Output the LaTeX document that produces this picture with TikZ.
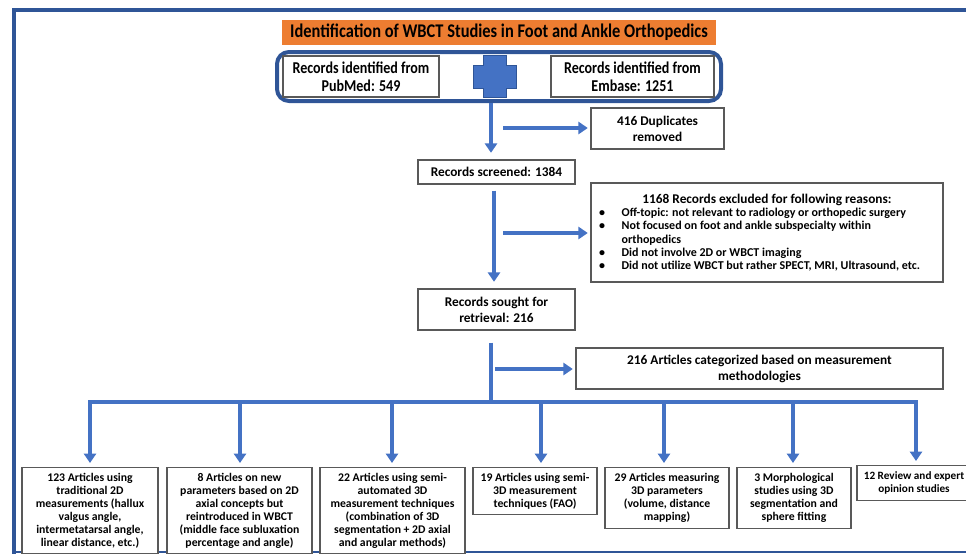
\documentclass[tikz,border=0pt]{standalone}
\usepackage{fontspec}
\setmainfont{Carlito}
\newfontfamily\narrowfont[FakeStretch=0.85]{Carlito}
\usetikzlibrary{arrows.meta}
\definecolor{frameblue}{HTML}{2F5597}
\definecolor{flowblue}{HTML}{4472C4}
\definecolor{headorange}{HTML}{ED7D31}
\definecolor{boxline}{HTML}{595959}
\tikzset{
  box/.style={draw=boxline,line width=0.8pt,fill=white,align=center,inner sep=1pt,
    font=\bfseries\fontsize{10}{12}\selectfont},
  sourcebox/.style={box,font=\narrowfont\bfseries\fontsize{12.4}{13.5}\selectfont,
    minimum height=30.75pt},
  leafbox/.style={box,anchor=north,font=\bfseries\fontsize{8.8}{9.75}\selectfont},
  flow/.style={draw=flowblue,line width=2.4pt,-{Triangle[width=9pt,length=7pt]}},
  bus/.style={draw=flowblue,line width=2.4pt},
}
\newcommand{\exitem}[1]{\par\hangindent=20pt\hangafter=1\noindent
  \makebox[20pt][l]{\hspace{3pt}\textbullet}#1}
\begin{document}
\begin{tikzpicture}[x=0.75pt,y=-0.75pt]
\useasboundingbox (0,0) rectangle (966,554);
% frame
\draw[frameblue,line width=3pt] (966,10) -- (14,10) -- (14,554);
\draw[frameblue,line width=1.5pt] (14,552) -- (966,552);

\node[fill=headorange,minimum width=325.5pt,minimum height=18.75pt,inner sep=0pt,
  font=\narrowfont\bfseries\fontsize{14.5}{16}\selectfont] (title) at (499,32.5)
  {Identification of WBCT Studies in Foot and Ankle Orthopedics};
\node[draw=frameblue,line width=3pt,rounded corners=9pt,minimum width=333pt,
  minimum height=36.75pt] (source) at (499,76.5) {};
\node[sourcebox,minimum width=117pt] (pubmed) at (361,76.5) {Records identified from\\PubMed: 549};
\node[sourcebox,minimum width=122.25pt] (embase) at (632.5,76.5) {Records identified from\\Embase: 1251};
% plus sign
\filldraw[fill=flowblue,draw=frameblue,line width=0.6pt] (483,55) -- (506,55) -- (506,65)
  -- (516,65) -- (516,88) -- (506,88) -- (506,97) -- (483,97) -- (483,88) -- (473,88)
  -- (473,65) -- (483,65) -- cycle;

\node[box,minimum width=99.75pt,minimum height=30.75pt] (dup) at (657.5,128.5) {416 Duplicates\\removed};
\node[box,minimum width=117.75pt,minimum height=18pt] (screened) at (496.5,172) {Records screened: 1384};
\node[box,minimum width=264pt,minimum height=74.25pt] (excl) at (767,232.5) {\parbox{258pt}{%
  \centering 1168 Records excluded for following reasons:\par
  \raggedright\fontsize{9}{10}\selectfont
  \exitem{Off-topic: not relevant to radiology or orthopedic surgery}
  \exitem{Not focused on foot and ankle subspecialty within\newline orthopedics}
  \exitem{Did not involve 2D or WBCT imaging}
  \exitem{Did not utilize WBCT but rather SPECT, MRI, Ultrasound, etc.}\par}};
\node[box,minimum width=117.75pt,minimum height=30.75pt] (sought) at (496.5,309.5) {Records sought for\\retrieval: 216};
\node[box,minimum width=275.25pt,minimum height=30.75pt] (cat) at (759.5,368.5) {216 Articles categorized based on measurement\\methodologies};

\node[leafbox,minimum width=102pt,minimum height=64.5pt] (leaf1) at (90,467) {123 Articles using\\traditional 2D\\measurements (hallux\\valgus angle,\\intermetatarsal angle,\\linear distance, etc.)};
\node[leafbox,minimum width=108.75pt,minimum height=64.5pt] (leaf2) at (239.5,467) {8 Articles on new\\parameters based on 2D\\axial concepts but\\reintroduced in WBCT\\(middle face subluxation\\percentage and angle)};
\node[leafbox,minimum width=108.75pt,minimum height=64.5pt] (leaf3) at (392.5,467) {22 Articles using semi-\\automated 3D\\measurement techniques\\(combination of 3D\\segmentation + 2D axial\\and angular methods)};
\node[leafbox,minimum width=93pt,minimum height=35.25pt] (leaf4) at (535,467) {19 Articles using semi-\\3D measurement\\techniques (FAO)};
\node[leafbox,minimum width=93pt,minimum height=45.75pt] (leaf5) at (667,467) {29 Articles measuring\\3D parameters\\(volume, distance\\mapping)};
\node[leafbox,minimum width=85.5pt,minimum height=45.75pt] (leaf6) at (794,467) {3 Morphological\\studies using 3D\\segmentation and\\sphere fitting};
\node[leafbox,minimum width=85.5pt,minimum height=26.25pt,
  font=\bfseries\fontsize{8.4}{9.75}\selectfont] (leaf7) at (914,465) {12 Review and expert\\opinion studies};

% arrows
\coordinate (a1) at (491,0);
\draw[flow,shorten >=5pt] (source.south -| a1) -- (screened.north -| a1);
\coordinate (d1) at (503,128);
\draw[flow,shorten >=2pt] (d1) -- (d1 -| dup.west);
\coordinate (a2) at (494,0);
\draw[flow,shorten <=4.5pt,shorten >=5pt] (screened.south -| a2) -- (sought.north -| a2);
\coordinate (d2) at (503,233);
\draw[flow,shorten >=2pt] (d2) -- (d2 -| excl.west);
\coordinate (split) at (491,402);
\draw[bus,shorten <=9pt] (sought.south -| split) -- (split);
\coordinate (d3) at (495,369);
\draw[flow,shorten >=2pt] (d3) -- (d3 -| cat.west);
\foreach \x [count=\i] in {90,240,392,541,664,793,916} {
  \coordinate (drop\i) at (\x,402);
  \draw[flow,shorten >=3pt] (drop\i) -- (drop\i |- leaf\i.north);
}
\draw[bus,line cap=rect] (drop1) -- (drop7);
\end{tikzpicture}
\end{document}
